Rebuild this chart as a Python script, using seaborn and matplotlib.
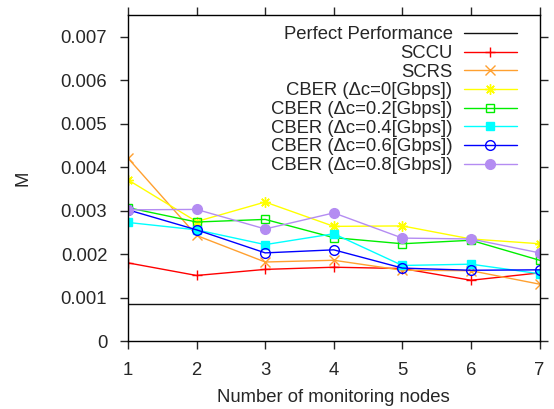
import matplotlib
matplotlib.use('Agg')
import matplotlib.pyplot as plt
import seaborn as sns

# data
nodes = [1, 2, 3, 4, 5, 6, 7]
perfect = [0.00085] * 7
sccu = [0.00180, 0.00151, 0.00165, 0.00170, 0.00167, 0.00140, 0.00157]
scrs = [0.00421, 0.00243, 0.00182, 0.00186, 0.00163, 0.00162, 0.00131]
cber_00 = [0.00371, 0.00275, 0.00320, 0.00264, 0.00265, 0.00235, 0.00224]
cber_02 = [0.00307, 0.00274, 0.00280, 0.00238, 0.00224, 0.00232, 0.00186]
cber_04 = [0.00273, 0.00256, 0.00222, 0.00247, 0.00174, 0.00177, 0.00155]
cber_06 = [0.00302, 0.00256, 0.00203, 0.00210, 0.00168, 0.00163, 0.00164]
cber_08 = [0.00302, 0.00303, 0.00258, 0.00295, 0.00237, 0.00235, 0.00203]

labels = ['Perfect Performance', 'SCCU', 'SCRS',
          'CBER (Δc=0[Gbps])', 'CBER (Δc=0.2[Gbps])', 'CBER (Δc=0.4[Gbps])',
          'CBER (Δc=0.6[Gbps])', 'CBER (Δc=0.8[Gbps])']
yticks = [0, 0.001, 0.002, 0.003, 0.004, 0.005, 0.006, 0.007]
ytick_labels = ['0', '0.001', '0.002', '0.003', '0.004', '0.005', '0.006', '0.007']

sns.set_style('ticks')
plt.rcParams['font.family'] = ['Liberation Sans', 'DejaVu Sans']
fs = 13.3

fig = plt.figure(figsize=(5.54, 4.09), dpi=100)
ax = fig.add_axes([0.231, 0.166, 0.743, 0.797])

series = [perfect, sccu, scrs, cber_00, cber_02, cber_04, cber_06, cber_08]
colors = ['#111111', '#ff0000', '#ffa030', '#ffff00', '#00ee00', '#00ffff', '#0000ff', '#b48cf2']
markers = [None, '+', 'x', (8, 2, 0), 's', 's', 'o', 'o']
faces = [None, None, None, None, 'none', None, 'none', None]
sizes = [0, 7.5, 6.5, 7.5, 6, 6, 7, 7]

for vals, lab, col, mk, fc, ms in zip(series, labels, colors, markers, faces, sizes):
    if mk is None:
        sns.lineplot(x=nodes, y=vals, ax=ax, color=col, label=lab, linewidth=1.0)
        continue
    sns.lineplot(x=nodes, y=vals, ax=ax, color=col, marker=mk, label=lab,
                 linewidth=1.0, markersize=ms, markeredgewidth=1.0,
                 markeredgecolor=col, markerfacecolor=fc if fc else col)

ax.set_xlim(1, 7)
ax.set_ylim(0, 0.0075)
ax.set_xticks(nodes)
ax.set_yticks(yticks)
ax.set_yticklabels(ytick_labels)
ax.tick_params(direction='out', length=6, width=1, top=True, right=True,
               labeltop=False, labelright=False, labelsize=fs, pad=9)
for s in ax.spines.values():
    s.set_linewidth(1.0)
    s.set_color('black')

ax.set_xlabel('Number of monitoring nodes', fontsize=fs, labelpad=7)
ax.set_ylabel('M', fontsize=fs, labelpad=21)

ax.legend(loc='upper right', frameon=False, markerfirst=False, handlelength=2.9,
          labelspacing=0.09, borderaxespad=0.3, fontsize=fs, handletextpad=0.6,
          bbox_to_anchor=(0.977, 1.005))

fig.savefig('out.png', dpi=100)
